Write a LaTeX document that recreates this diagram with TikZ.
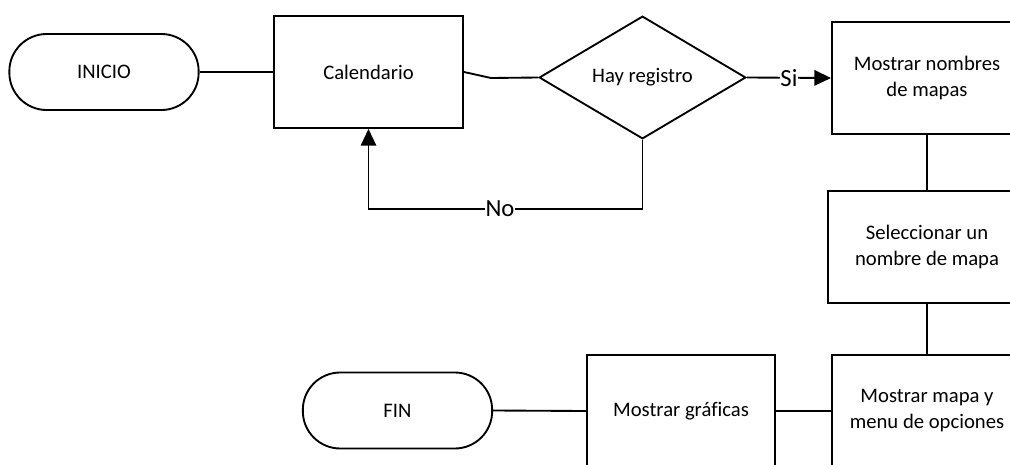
\documentclass[tikz,border=0pt]{standalone}
\usepackage{fontspec}
\setmainfont{Carlito}[Ligatures=NoCommon]
\usetikzlibrary{shapes.geometric,arrows.meta}
\begin{document}
\begin{tikzpicture}[x=0.75pt,y=-0.75pt,
  line width=1.4pt,
  every node/.style={font=\fontsize{15.5}{19.5}\selectfont, align=center},
  procbox/.style={draw, rectangle, inner sep=0pt},
  termbox/.style={draw, rectangle, rounded corners=28pt, inner sep=0pt, minimum width=142pt, minimum height=57pt},
  decbox/.style={draw, diamond, inner sep=0pt, minimum width=155pt, minimum height=92pt},
  lbl/.style={fill=white, inner sep=0.5pt, font=\fontsize{18.5}{21}\selectfont},
  arr/.style={-{Triangle[length=12.5pt,width=11.5pt]}}
]
\useasboundingbox (0,0) rectangle (1010,464);
\clip (0,0) rectangle (1010,464);

\node[termbox] (inicio) at (104,72) {INICIO};
\node[procbox, minimum width=141.75pt, minimum height=84pt] (cal) at (368.5,72) {Calendario};
\node[decbox] (dia) at (642.5,77.5) {Hay registro};
\node[procbox, minimum width=142.5pt, minimum height=84pt] (nom) at (927,78) {Mostrar nombres\\de mapas};
\node[procbox, minimum width=148.5pt, minimum height=84pt] (sel) at (927,247) {Seleccionar un\\nombre de mapa};
\node[procbox, minimum width=142.5pt, minimum height=84pt] (mapa) at (927,411) {Mostrar mapa y\\menu de opciones};
\node[procbox, minimum width=141pt, minimum height=84pt] (graf) at (681,411) {Mostrar gráficas};
\node[termbox] (fin) at (397.5,410.5) {FIN};

\coordinate (bend) at (491,78);
\coordinate (nob) at (642.5,209);

\draw (inicio.east) -- (cal.west);
\draw (cal.east) -- (bend) -- (dia.west);
\draw[arr] (dia.east) -- node[lbl]{Si} (nom.west);
\draw[arr] (dia.south) -- (nob) -| node[lbl, pos=0.26]{No} (cal.south);
\draw (nom.south) -- (sel.north);
\draw (sel.south) -- (mapa.north);
\draw (mapa.west) -- (graf.east);
\draw (graf.west) -- (fin.east);
\end{tikzpicture}
\end{document}
